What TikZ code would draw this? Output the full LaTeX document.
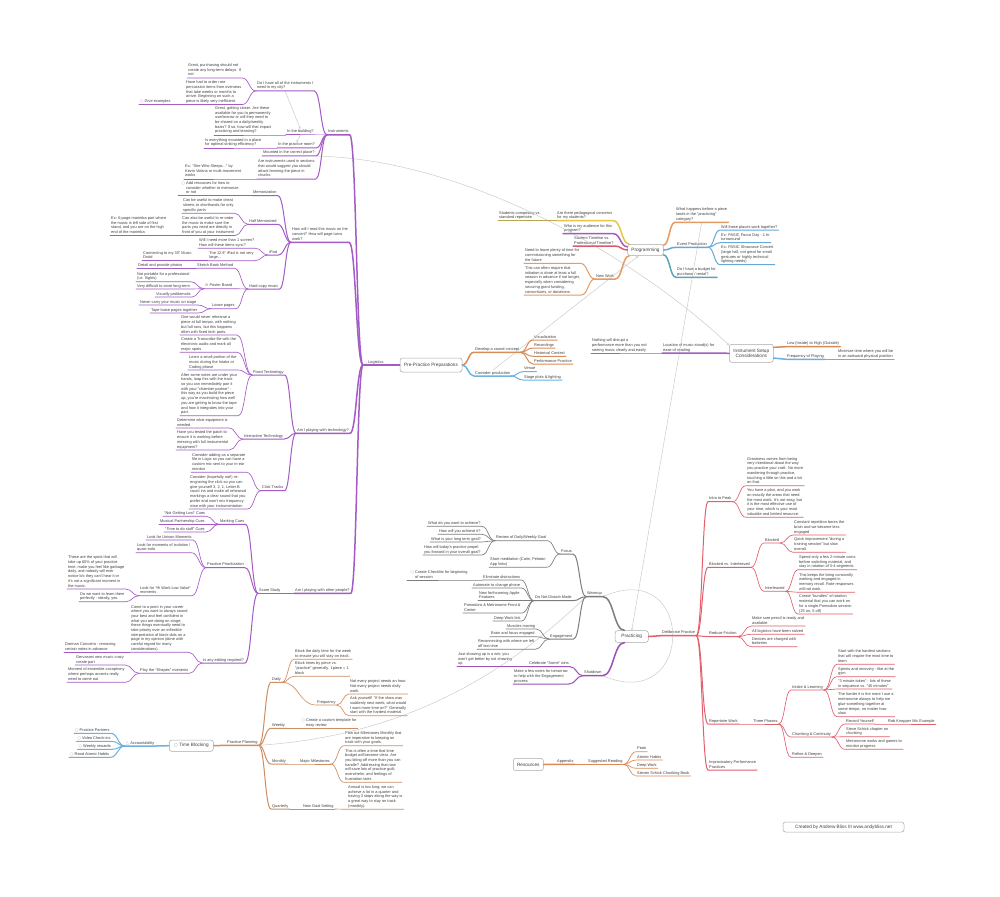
\documentclass[tikz,border=0pt]{standalone}
\usepackage{fontspec}
\setmainfont{Liberation Sans}
\newfontfamily\iconfont{DejaVu Sans}
\usepackage{xcolor}
\definecolor{darkText}{HTML}{404040}
\definecolor{boxGray}{HTML}{A8A8A8}
\definecolor{linkGray}{HTML}{CCCCCC}
\definecolor{iconGray}{HTML}{9A9A9A}
\definecolor{flagPink}{HTML}{E3A1C9}
\definecolor{warnRed}{HTML}{E0554F}
\definecolor{logPurple}{HTML}{A55BC6}
\definecolor{planBrown}{HTML}{CE8E63}
\definecolor{accBlue}{HTML}{6FB1DA}
\definecolor{soundOrange}{HTML}{D98C55}
\definecolor{prodBlue}{HTML}{6BB5E2}
\definecolor{pedYellow}{HTML}{E8C547}
\definecolor{oliveTan}{HTML}{B9A452}
\definecolor{audPurple}{HTML}{A35BC4}
\definecolor{timeRed}{HTML}{D95C6E}
\definecolor{newOrange}{HTML}{E59B63}
\definecolor{eventBlue}{HTML}{66A9D8}
\definecolor{budgetTeal}{HTML}{5CA4B2}
\definecolor{setupOrange}{HTML}{D88B52}
\definecolor{setupBlue}{HTML}{69B0DD}
\definecolor{warmGray}{HTML}{7D7D7D}
\definecolor{shutPurple}{HTML}{9C50B8}
\definecolor{delibRed}{HTML}{E25F6C}
\definecolor{appOrange}{HTML}{E08850}
\usepackage{tikz}
\usetikzlibrary{
    arrows.meta,
    calc
}
\newcommand\mapfont{\fontsize{3.9}{4.7}\selectfont}
\newcommand\rootfont{\fontsize{4.7}{5.8}\selectfont}
\newcommand\taskicon{{\iconfont\textcolor{iconGray}{○}}\ }
\newcommand\taskhang{\llap{\taskicon}}
\newcommand\warnicon{{\iconfont\textcolor{warnRed}{⊖}}\ }
\newcommand\flagicon[1]{{\iconfont\textcolor{#1}{△}}\ }
\tikzset{
    % Text of a topic, sitting on its own underline
    topic/.style={
        font=\mapfont,
        text=darkText,
        align=left,
        anchor=south west,
        inner xsep=1pt,
        inner ysep=0.7pt,
        execute at end node={\rule[-1.1pt]{0pt}{1pt}},
    },
    % Central topics - rounded white boxes
    rootbox/.style={
        font=\rootfont,
        text=darkText,
        align=center,
        draw=boxGray,
        line width=0.5pt,
        rounded corners=2.5pt,
        fill=white,
        inner sep=2pt,
    },
    % Mind map curve: leaves flat, bends, arrives flat
    curvy/.style={
        to path={.. controls ($(\tikztostart)!0.5!(\tikztotarget|-\tikztostart)$)
            and ($(\tikztotarget)!0.5!(\tikztostart|-\tikztotarget)$) .. (\tikztotarget)},
    },
    % Branch widths, from the root outwards
    trunk/.style={curvy, draw=#1, line width=1.5pt, line cap=round},
    bough/.style={curvy, draw=#1, line width=1pt, line cap=round},
    twig/.style={curvy, draw=#1, line width=0.65pt, line cap=round},
    % Thin grey relation lines
    crosslink/.style={
        draw=linkGray,
        line width=0.5pt,
        -{Stealth[length=2.5pt, width=2.2pt]},
    },
}

\begin{document}
\begin{tikzpicture}[x=1pt, y=-1pt]
    \fill [white] (0,0) rectangle (1000,896);
    \useasboundingbox (0,0) rectangle (1000,896);

    \node (prepractice) [rootbox, minimum width=62pt, minimum height=14pt] at (431,365) {Pre-Practice Preparations};
    \node (programming) [rootbox, minimum width=35.6pt, minimum height=11.4pt] at (645.5,250) {Programming};
    \node (setup) [rootbox, minimum width=44pt, minimum height=18pt] at (751.3,353.3) {Instrument Setup\\Considerations};
    \node (practicing) [rootbox, minimum width=33.3pt, minimum height=11.6pt] at (631.7,636.5) {Practicing};
    \node (resources) [rootbox, minimum width=30pt, minimum height=12.4pt] at (528.3,764.5) {Resources};
    \node (timeblocking) [rootbox, minimum width=44pt, minimum height=11.4pt] at (191.3,745.7) {{\iconfont\textcolor{iconGray}{○}} Time Blocking};
    \node (credits) [rootbox, minimum width=121pt, minimum height=10pt] at (843.5,827) {Created by Andrew Bliss III www.andybliss.net};

    \node (logistics) [topic] at (363,365) {\flagicon{flagPink}Logistics};
    \node (instruments) [topic] at (327,135) {Instruments};
    \node (doihave) [topic] at (256,91) {Do I have all of the instruments I\\need in my city?};
    \node (purchasing) [topic] at (187,78) {Great, purchasing should not\\create any long-term delays. If\\not};
    \node (overseas) [topic] at (185,104.5) {Have had to order rare\\percussion items from overseas\\that take weeks or months to\\arrive. Beginning on such a\\piece is likely very inefficient.};
    \node (giveexamples) [topic] at (139,104.5) {\taskicon Give examples};
    \node (inbuilding) [topic] at (286,135) {In the building?};
    \node (closer) [topic] at (214,135) {Great, getting closer. Are these\\available for you to permanently\\use/borrow or will they need to\\be shared on a daily/weekly\\basis? If so, how will that impact\\practicing and learning?};
    \node (practiceroom) [topic] at (277,148) {In the practice room?};
    \node (striking) [topic] at (204,148) {Is everything mounted in a place\\for optimal striking efficiency?};
    \node (mounted) [topic] at (262,156) {Mounted in the correct place?};
    \node (sections) [topic] at (257,179) {Are instruments used in sections\\that would suggest you should\\attack learning the piece in\\chunks};
    \node (shewho) [topic] at (184,179) {Ex: “She Who Sleeps...” by\\Kevin Volans or multi-movement\\works};

    \node (readmusic) [topic] at (291,242.3) {How will I read this music on the\\concert? How will page turns\\work?};
    \node (memorization) [topic] at (252,195.7) {Memorization};
    \node (addresources) [topic] at (185,195.7) {\taskhang Add resources for how to\\consider whether to memorize\\or not};
    \node (halfmemorized) [topic] at (248,224.3) {Half Memorized};
    \node (cheatsheets) [topic] at (182,213.3) {Can be useful to make cheat\\sheets or shorthands for only\\specific parts};
    \node (reorder) [topic] at (181,235.5) {Can also be useful to re-order\\the music to make sure the\\parts you need are directly in\\front of you at your instrument};
    \node (marimba) [topic] at (110,235.5) {Ex: 6-page marimba part where\\the music is left side of first\\stand, and you are on the high\\end of the marimba};
    \node (ipad) [topic] at (268,255) {iPad};
    \node (screens) [topic] at (198,248.3) {Will I need more than 1 screen?\\How will these items sync?};
    \node (ipadsize) [topic] at (208,260.7) {The 12.9" iPad is not very\\large...};
    \node (musicdroid) [topic] at (142,260.7) {Connecting to my 30" Music\\Droid};
    \node (hardcopy) [topic] at (248,289) {Hard copy music};
    \node (sketchbook) [topic] at (196,268.3) {Sketch Book Method};
    \node (photos) [topic] at (137,268.3) {Detail and provide photos};
    \node (posterboard) [topic] at (204,288.7) {\warnicon Poster Board};
    \node (portable) [topic] at (136,281.7) {Not portable for a professional\\(i.e. flights)};
    \node (storage) [topic] at (136,289) {Very difficult to store long-term};
    \node (visual) [topic] at (155,297) {Visually problematic};
    \node (loosepages) [topic] at (211,308.7) {Loose pages};
    \node (nevercarry) [topic] at (139,305) {Never carry your music on stage};
    \node (tapepages) [topic] at (150,313) {Tape loose pages together};

    \node (technology) [topic] at (296,433.3) {Am I playing with technology?};
    \node (fixedtech) [topic] at (252,375) {Fixed Technology};
    \node (neverrehearse) [topic] at (180,335) {One would never rehearse a\\piece at full tempo, with nothing\\but full runs, but this happens\\often with fixed tech parts.};
    \node (transcribe) [topic] at (180,352.3) {Create a Transcribe file with the\\electronic audio and mark all\\major spots};
    \node (learnportion) [topic] at (188,370) {Learn a small portion of the\\music during the Intake or\\Coding phase};
    \node (looptrack) [topic] at (180,415.7) {After some notes are under your\\hands, loop this with the track\\so you can immediately pair it\\with your “chamber partner” -\\this way as you build the piece\\up, you’re maximizing how well\\you are getting to know the tape\\and how it integrates into your\\part.};
    \node (interactive) [topic] at (243,439) {Interactive Technology};
    \node (equipment) [topic] at (176,428) {Determine what equipment is\\needed};
    \node (testpatch) [topic] at (176,450) {Have you tested the patch to\\ensure it is working before\\messing with full instrumental\\equipment?};
    \node (clicktracks) [topic] at (261,490.7) {Click Tracks};
    \node (logicmix) [topic] at (191,472.3) {Consider adding as a separate\\file in Logic so you can have a\\custom mix sent to your in-ear\\monitor};
    \node (reengrave) [topic] at (189,509) {Consider (hopefully not!) re-\\engraving the click so you can\\give yourself 3, 2, 1, Letter B\\count ins and make all rehearsal\\markings a clear sound that you\\prefer and won’t mix frequency-\\wise with your instrumentation};

    \node (otherpeople) [topic] at (294,593.3) {Am I playing with other people?};
    \node (scorestudy) [topic] at (258,593.3) {Score Study};
    \node (markingcues) [topic] at (219,524.3) {Marking Cues};
    \node (notlost) [topic] at (163,516.3) {“Not Getting Lost” Cues};
    \node (partnership) [topic] at (159,524.3) {Musical Partnership Cues};
    \node (timetodo) [topic] at (164,532) {“Time to do stuff” Cues};
    \node (prioritization) [topic] at (206,567.7) {Practice Prioritization};
    \node (unison) [topic] at (146,540) {Look for Unison Moments};
    \node (isolation) [topic] at (136,552.7) {Look for moments of isolation /\\quasi-solo};
    \node (hiwork) [topic] at (139,595.7) {Look for “Hi Work Low Value”\\moments};
    \node (garbage) [topic] at (67,589) {These are the spots that will\\take up 60\% of your practice\\time, make you feel like garbage\\daily, and nobody will ever\\notice b/c they can’t hear it or\\it’s not a significant moment in\\the music.};
    \node (perfectly) [topic] at (79,601.7) {Do we want to learn them\\perfectly - ideally, yes.};
    \node (editing) [topic] at (202,663) {Is any editing required?};
    \node (career) [topic] at (130,652.3) {Come to a point in your career\\where you want to always sound\\your best and feel confident in\\what you are doing on stage;\\these things eventually need to\\take priority over an inflexible\\interpretation of black dots on a\\page in my opinion (done with\\careful regard for many\\considerations).};
    \node (dorman) [topic] at (64,652.3) {Dorman Concerto - removing\\certain notes in advance};
    \node (shapes) [topic] at (139,673.3) {Play the “Shapes” moments};
    \node (gervasoni) [topic] at (75,665) {Gervasoni new music crazy\\create part};
    \node (cacophony) [topic] at (67,682.3) {Moment of ensemble cacophony\\where perhaps accents really\\need to come out};

    \node (accountability) [topic] at (125,746) {\flagicon{iconGray}Accountability};
    \node (partners) [topic] at (74,733.3) {\taskicon Practice Partners};
    \node (checkins) [topic] at (76.5,741.3) {\taskicon Video Check-ins};
    \node (rewards) [topic] at (77.5,749.3) {\taskicon Weekly rewards};
    \node (atomicread) [topic] at (69,757.3) {\taskicon Read Atomic Habits};
    \node (planning) [topic] at (226,745.3) {Practice Planning};
    \node (daily) [topic] at (271,682.3) {Daily};
    \node (dailytime) [topic] at (294,659.3) {Block the daily time for the week\\to ensure you will stay on track.};
    \node (perpiece) [topic] at (294,676.3) {Block times by piece vs.\\“practice” generally. 1piece = 1\\block};
    \node (frequency) [topic] at (316,705) {Frequency};
    \node (projecthour) [topic] at (349,694) {Not every project needs an hour.\\Not every project needs daily\\work.};
    \node (askyourself) [topic] at (349,715.7) {Ask yourself! “If the show was\\suddenly next week, what would\\I want more time on?” Generally\\start with the hardest material};
    \node (weekly) [topic] at (271,728.3) {Weekly};
    \node (template) [topic] at (305,728.3) {\taskhang Create a custom template for\\easy review};
    \coordinate (templatestart) at ([xshift=-8pt]template.south west);
    \node (monthly) [topic] at (271,764) {Monthly};
    \node (milestones) [topic] at (299,764) {Major Milestones};
    \node (planout) [topic] at (344,745.7) {Plan out Milestones Monthly that\\are imperative to keeping on\\track with your goals.};
    \node (timebudget) [topic] at (344,782.3) {This is often a time that time\\budget will become clear. Are\\you biting off more than you can\\handle? Addressing that now\\will save lots of practice guilt,\\overwhelm, and feelings of\\frustration later.};
    \node (quarterly) [topic] at (271,809) {Quarterly};
    \node (newgoal) [topic] at (302,809) {New Goal Setting};
    \node (annual) [topic] at (347,809.3) {Annual is too long; we can\\achieve a lot in a quarter and\\having 3 stops along the way is\\a great way to stay on track\\(monthly).};

    \node (soundconcept) [topic] at (474,352.3) {Develop a sound concept};
    \node (visualization) [topic] at (533,340) {Visualization};
    \node (recordings) [topic] at (533,348) {Recordings};
    \node (historical) [topic] at (533,356.3) {Historical Context};
    \node (perfpractice) [topic] at (533,364) {Performance Practice};
    \node (production) [topic] at (474,376) {Consider production};
    \node (venue) [topic] at (523,371.7) {Venue};
    \node (stageplots) [topic] at (523,380) {Stage plots \& lighting};

    \node (pedagogy) [topic] at (556,220.7) {Are there pedagogical concerns\\for my students?};
    \node (composing) [topic] at (498,220.7) {Students composing vs.\\standard repertoire};
    \node (audience) [topic] at (563,233.7) {Who is my audience for this\\program?};
    \node (timeline) [topic] at (573,246) {Student Timeline vs.\\Professional Timeline?};
    \node (newwork) [topic] at (595,279) {New Work};
    \node (commission) [topic] at (524,263.3) {Need to leave plenty of time for\\commissioning something for\\the future};
    \node (initiation) [topic] at (524,295) {This can often require that\\initiation is done at least a full\\season in advance if not longer,\\especially when considering\\securing grant funding,\\consortiums, or donations.};
    \node (beforepiece) [topic] at (675,222.3) {What happens before a piece\\lands in the “practicing”\\category?};
    \node (eventprod) [topic] at (676,247.3) {Event Production};
    \node (together) [topic] at (720,230) {Will these places work together?};
    \node (focusday) [topic] at (720,242.7) {Ex: PASIC Focus Day - 1 hr\\turnaround};
    \node (showcase) [topic] at (720,264.7) {Ex: PASIC Showcase Concert\\(large hall, not great for small\\gestures or highly technical\\lighting needs)};
    \node (budget) [topic] at (676,277.3) {Do I have a budget for\\purchase / rental?};

    \node (lowhigh) [topic] at (786,346.7) {Low (Inside) to High (Outside)};
    \node (playfreq) [topic] at (786,359.3) {Frequency of Playing};
    \node (awkward) [topic] at (837,359.3) {Minimize time where you will be\\in an awkward physical position};
    \node (musicstand) [topic] at (662,353) {Location of music stand(s) for\\ease of reading};
    \node (disrupt) [topic] at (591,353) {Nothing will disrupt a\\performance more than you not\\seeing music clearly and easily};

    \node (warmup) [topic] at (586,596.7) {Warmup};
    \node (focus) [topic] at (560,554) {Focus};
    \node (reviewgoal) [topic] at (495,540.7) {Review of Daily/Weekly Goal};
    \node (achieve) [topic] at (427,526.3) {What do you want to achieve?};
    \node (howachieve) [topic] at (438,534.3) {How will you achieve it?};
    \node (longterm) [topic] at (430,542) {What is your long term goal?};
    \node (propel) [topic] at (423,555) {How will today’s practice propel\\you forward in your overall goal?};
    \node (meditation) [topic] at (489,567.3) {Short meditation (Calm, Peloton\\App links)};
    \node (donotdisturb) [topic] at (534,600.7) {Do Not Disturb Mode};
    \node (distractions) [topic] at (482,580) {Eliminate distractions};
    \node (checklist) [topic] at (414,580) {\taskhang Create Checklist for beginning\\of session};
    \node (automate) [topic] at (472,588) {Automate to change phone};
    \node (applefeatures) [topic] at (478,600.7) {New forthcoming Apple\\Features};
    \node (pomodoro) [topic] at (463,613) {Pomodoro \& Metronome Front \&\\Center};
    \node (deepworklink) [topic] at (493,621) {Deep Work link};
    \node (engagement) [topic] at (549,639) {Engagement};
    \node (muscles) [topic] at (506,629) {Muscles moving};
    \node (brainfocus) [topic] at (490,636.7) {Brain and focus engaged};
    \node (reconnect) [topic] at (477,649.3) {Reconnecting with where we left\\off last time};
    \node (shutdown) [topic] at (583,675.7) {Shutdown};
    \node (celebrate) [topic] at (528,666.7) {Celebrate “Some” wins};
    \node (showingup) [topic] at (457,666.7) {Just showing up is a win; you\\won’t get better by not showing\\up};
    \node (fewnotes) [topic] at (513,684) {Make a few notes for tomorrow\\to help with the Engagement\\process};

    \node (deliberate) [topic] at (661,635.7) {Deliberate Practice};
    \node (introtopeak) [topic] at (708,501.7) {Intro to Peak};
    \node (greatness) [topic] at (746,485.7) {Greatness comes from being\\very intentional about the way\\you practice your craft. No more\\wandering through practice,\\touching a little on this and a bit\\on that.};
    \node (haveaplan) [topic] at (746,517.3) {You have a plan, and you work\\on exactly the areas that need\\the most work. It’s not easy, but\\it is the most effective use of\\your time, which is your most\\valuable and limited resource.};
    \node (blockedinter) [topic] at (708,567.3) {Blocked vs. Interleaved};
    \node (blocked) [topic] at (764,543) {Blocked};
    \node (repetition) [topic] at (793,535) {Constant repetition bores the\\brain and we become less\\engaged};
    \node (quickimprove) [topic] at (793,552.3) {Quick improvement “during a\\training session” but slow\\overall.};
    \node (interleaved) [topic] at (764,591.3) {Interleaved};
    \node (coins) [topic] at (798,569.7) {Spend only a few 2-minute coins\\before switching material, and\\stay in rotation of 3-4 segments};
    \node (recall) [topic] at (798,592.3) {This keeps the bring constantly\\working and engaged in\\memory recall. Rote responses\\will not work.};
    \node (bundles) [topic] at (798,614) {Create “bundles” of rotation\\material that you can work on\\for a single Pomodoro session\\(25 on, 5 off)};
    \node (friction) [topic] at (708,636.7) {Reduce Friction};
    \node (pencil) [topic] at (751,626) {Make sure pencil is ready and\\available};
    \node (solved) [topic] at (751,634.3) {All logistics have been solved};
    \node (charged) [topic] at (751,646.7) {Devices are charged with\\batteries};
    \node (repertoire) [topic] at (708,724) {Repertoire Work};
    \node (threephases) [topic] at (752,724) {Three Phases};
    \node (intake) [topic] at (791,690) {Intake \& Learning};
    \node (hardest) [topic] at (837,664.3) {Start with the hardest sections\\that will require the most time to\\learn};
    \node (sprints) [topic] at (837,676.7) {Sprints and recovery - like at the\\gym};
    \node (token) [topic] at (837,689) {“3 minute token” - lots of these\\in sequence vs. “45 minutes”};
    \node (glue) [topic] at (837,716.7) {The harder it is the more I use a\\metronome always to help me\\glue something together at\\some tempo, no matter how\\slow.};
    \node (chunking) [topic] at (791,737) {Chunking \& Continuity};
    \node (recordyourself) [topic] at (845,724) {Record Yourself};
    \node (knopper) [topic] at (887,724) {Rob Knopper Mic Example};
    \node (schickchapter) [topic] at (845,736.7) {Steve Schick chapter on\\chunking};
    \node (games) [topic] at (845,749.3) {Metronome works and games to\\monitor progress};
    \node (refine) [topic] at (791,757.3) {Refine \& Deepen};
    \node (improv) [topic] at (708,770) {Improvisatory Performance\\Practices};

    \node (appendix) [topic] at (556,764.3) {Appendix};
    \node (reading) [topic] at (587,764.3) {Suggested Reading};
    \node (peak) [topic] at (636,751.7) {Peak};
    \node (atomicbook) [topic] at (636,760) {Atomic Habits};
    \node (deepworkbook) [topic] at (636,768.3) {Deep Work};
    \node (schickbook) [topic] at (636,776) {Steven Schick Chunking Book};

    \draw [crosslink] (doihave.south) -- (inbuilding.north);
    \draw [crosslink] (inbuilding.south) -- (practiceroom.north);
    \draw [crosslink] (mounted.south east) .. controls (480,160) and (650,270) .. (setup.160);
    \draw [crosslink] (production.north) -- (programming.220);
    \draw [crosslink] (beforepiece.south) -- (practicing.north);
    \draw [crosslink] (planning.south east) .. controls (420,735) and (520,660) .. (warmup.south west);
    \draw [crosslink] (shutdown.south east) .. controls +(93,40) and +(93,-40) .. (warmup.south east);

    \draw [trunk=logPurple] (prepractice.west) to (logistics.south east) -- (logistics.south west);
    \draw [trunk=logPurple] (logistics.south west) to (instruments.south east) -- (instruments.south west);
    \draw [trunk=logPurple] (logistics.south west) to (readmusic.south east) -- (readmusic.south west);
    \draw [trunk=logPurple] (logistics.south west) to (technology.south east) -- (technology.south west);
    \draw [trunk=logPurple] (logistics.south west) to (otherpeople.south east) -- (otherpeople.south west);
    \draw [bough=logPurple] (instruments.south west) to (doihave.south east) -- (doihave.south west);
    \draw [bough=logPurple] (instruments.south west) to (inbuilding.south east) -- (inbuilding.south west);
    \draw [bough=logPurple] (instruments.south west) to (practiceroom.south east) -- (practiceroom.south west);
    \draw [bough=logPurple] (instruments.south west) to (mounted.south east) -- (mounted.south west);
    \draw [bough=logPurple] (instruments.south west) to (sections.south east) -- (sections.south west);
    \draw [twig=logPurple] (doihave.south west) to (purchasing.south east) -- (purchasing.south west);
    \draw [twig=logPurple] (doihave.south west) to (overseas.south east) -- (overseas.south west);
    \draw [twig=logPurple] (overseas.south west) to (giveexamples.south east) -- (giveexamples.south west);
    \draw [twig=logPurple] (inbuilding.south west) to (closer.south east) -- (closer.south west);
    \draw [twig=logPurple] (practiceroom.south west) to (striking.south east) -- (striking.south west);
    \draw [twig=logPurple] (sections.south west) to (shewho.south east) -- (shewho.south west);
    \draw [bough=logPurple] (readmusic.south west) to (memorization.south east) -- (memorization.south west);
    \draw [bough=logPurple] (readmusic.south west) to (halfmemorized.south east) -- (halfmemorized.south west);
    \draw [bough=logPurple] (readmusic.south west) to (ipad.south east) -- (ipad.south west);
    \draw [bough=logPurple] (readmusic.south west) to (hardcopy.south east) -- (hardcopy.south west);
    \draw [twig=logPurple] (memorization.south west) to (addresources.south east) -- ([xshift=-7pt]addresources.south west);
    \draw [twig=logPurple] (halfmemorized.south west) to (cheatsheets.south east) -- (cheatsheets.south west);
    \draw [twig=logPurple] (halfmemorized.south west) to (reorder.south east) -- (reorder.south west);
    \draw [twig=logPurple] (reorder.south west) to (marimba.south east) -- (marimba.south west);
    \draw [twig=logPurple] (ipad.south west) to (screens.south east) -- (screens.south west);
    \draw [twig=logPurple] (ipad.south west) to (ipadsize.south east) -- (ipadsize.south west);
    \draw [twig=logPurple] (ipadsize.south west) to (musicdroid.south east) -- (musicdroid.south west);
    \draw [twig=logPurple] (hardcopy.south west) to (sketchbook.south east) -- (sketchbook.south west);
    \draw [twig=logPurple] (hardcopy.south west) to (posterboard.south east) -- (posterboard.south west);
    \draw [twig=logPurple] (hardcopy.south west) to (loosepages.south east) -- (loosepages.south west);
    \draw [twig=logPurple] (sketchbook.south west) to (photos.south east) -- (photos.south west);
    \draw [twig=logPurple] (posterboard.south west) to (portable.south east) -- (portable.south west);
    \draw [twig=logPurple] (posterboard.south west) to (storage.south east) -- (storage.south west);
    \draw [twig=logPurple] (posterboard.south west) to (visual.south east) -- (visual.south west);
    \draw [twig=logPurple] (loosepages.south west) to (nevercarry.south east) -- (nevercarry.south west);
    \draw [twig=logPurple] (loosepages.south west) to (tapepages.south east) -- (tapepages.south west);
    \draw [bough=logPurple] (technology.south west) to (fixedtech.south east) -- (fixedtech.south west);
    \draw [bough=logPurple] (technology.south west) to (interactive.south east) -- (interactive.south west);
    \draw [bough=logPurple] (technology.south west) to (clicktracks.south east) -- (clicktracks.south west);
    \draw [twig=logPurple] (fixedtech.south west) to (neverrehearse.south east) -- (neverrehearse.south west);
    \draw [twig=logPurple] (fixedtech.south west) to (transcribe.south east) -- (transcribe.south west);
    \draw [twig=logPurple] (fixedtech.south west) to (learnportion.south east) -- (learnportion.south west);
    \draw [twig=logPurple] (fixedtech.south west) to (looptrack.south east) -- (looptrack.south west);
    \draw [twig=logPurple] (interactive.south west) to (equipment.south east) -- (equipment.south west);
    \draw [twig=logPurple] (interactive.south west) to (testpatch.south east) -- (testpatch.south west);
    \draw [twig=logPurple] (clicktracks.south west) to (logicmix.south east) -- (logicmix.south west);
    \draw [twig=logPurple] (clicktracks.south west) to (reengrave.south east) -- (reengrave.south west);
    \draw [bough=logPurple] (otherpeople.south west) to (scorestudy.south east) -- (scorestudy.south west);
    \draw [bough=logPurple] (scorestudy.south west) to (markingcues.south east) -- (markingcues.south west);
    \draw [bough=logPurple] (scorestudy.south west) to (prioritization.south east) -- (prioritization.south west);
    \draw [bough=logPurple] (scorestudy.south west) to (editing.south east) -- (editing.south west);
    \draw [twig=logPurple] (markingcues.south west) to (notlost.south east) -- (notlost.south west);
    \draw [twig=logPurple] (markingcues.south west) to (partnership.south east) -- (partnership.south west);
    \draw [twig=logPurple] (markingcues.south west) to (timetodo.south east) -- (timetodo.south west);
    \draw [twig=logPurple] (prioritization.south west) to (unison.south east) -- (unison.south west);
    \draw [twig=logPurple] (prioritization.south west) to (isolation.south east) -- (isolation.south west);
    \draw [twig=logPurple] (prioritization.south west) to (hiwork.south east) -- (hiwork.south west);
    \draw [twig=logPurple] (hiwork.south west) to (garbage.south east) -- (garbage.south west);
    \draw [twig=logPurple] (hiwork.south west) to (perfectly.south east) -- (perfectly.south west);
    \draw [twig=logPurple] (editing.south west) to (career.south east) -- (career.south west);
    \draw [twig=logPurple] (editing.south west) to (shapes.south east) -- (shapes.south west);
    \draw [twig=logPurple] (career.south west) to (dorman.south east) -- (dorman.south west);
    \draw [twig=logPurple] (shapes.south west) to (gervasoni.south east) -- (gervasoni.south west);
    \draw [twig=logPurple] (shapes.south west) to (cacophony.south east) -- (cacophony.south west);

    \draw [trunk=accBlue] (timeblocking.west) to (accountability.south east) -- (accountability.south west);
    \draw [bough=accBlue] (accountability.south west) to (partners.south east) -- (partners.south west);
    \draw [bough=accBlue] (accountability.south west) to (checkins.south east) -- (checkins.south west);
    \draw [bough=accBlue] (accountability.south west) to (rewards.south east) -- (rewards.south west);
    \draw [bough=accBlue] (accountability.south west) to (atomicread.south east) -- (atomicread.south west);
    \draw [trunk=planBrown] (timeblocking.east) to (planning.south west) -- (planning.south east);
    \draw [bough=planBrown] (planning.south east) to (daily.south west) -- (daily.south east);
    \draw [bough=planBrown] (planning.south east) to (weekly.south west) -- (weekly.south east);
    \draw [bough=planBrown] (planning.south east) to (monthly.south west) -- (monthly.south east);
    \draw [bough=planBrown] (planning.south east) to (quarterly.south west) -- (quarterly.south east);
    \draw [twig=planBrown] (daily.south east) to (dailytime.south west) -- (dailytime.south east);
    \draw [twig=planBrown] (daily.south east) to (perpiece.south west) -- (perpiece.south east);
    \draw [twig=planBrown] (daily.south east) to (frequency.south west) -- (frequency.south east);
    \draw [twig=planBrown] (frequency.south east) to (projecthour.south west) -- (projecthour.south east);
    \draw [twig=planBrown] (frequency.south east) to (askyourself.south west) -- (askyourself.south east);
    \draw [twig=planBrown] (weekly.south east) to (templatestart) -- (template.south east);
    \draw [twig=planBrown] (monthly.south east) to (milestones.south west) -- (milestones.south east);
    \draw [twig=planBrown] (milestones.south east) to (planout.south west) -- (planout.south east);
    \draw [twig=planBrown] (milestones.south east) to (timebudget.south west) -- (timebudget.south east);
    \draw [twig=planBrown] (quarterly.south east) to (newgoal.south west) -- (newgoal.south east);
    \draw [twig=planBrown] (newgoal.south east) to (annual.south west) -- (annual.south east);

    \draw [trunk=soundOrange] (prepractice.east) to (soundconcept.south west) -- (soundconcept.south east);
    \draw [bough=soundOrange] (soundconcept.south east) to (visualization.south west) -- (visualization.south east);
    \draw [bough=soundOrange] (soundconcept.south east) to (recordings.south west) -- (recordings.south east);
    \draw [bough=soundOrange] (soundconcept.south east) to (historical.south west) -- (historical.south east);
    \draw [bough=soundOrange] (soundconcept.south east) to (perfpractice.south west) -- (perfpractice.south east);
    \draw [trunk=prodBlue] (prepractice.east) to (production.south west) -- (production.south east);
    \draw [bough=prodBlue] (production.south east) to (venue.south west) -- (venue.south east);
    \draw [bough=prodBlue] (production.south east) to (stageplots.south west) -- (stageplots.south east);

    \draw [trunk=pedYellow] (programming.160) to (pedagogy.south east) -- (pedagogy.south west);
    \draw [bough=oliveTan] (pedagogy.south west) to (composing.south east) -- (composing.south west);
    \draw [trunk=audPurple] (programming.170) to (audience.south east) -- (audience.south west);
    \draw [trunk=timeRed] (programming.180) to (timeline.south east) -- (timeline.south west);
    \draw [trunk=newOrange] (programming.200) to (newwork.south east) -- (newwork.south west);
    \draw [bough=newOrange] (newwork.south west) to (commission.south east) -- (commission.south west);
    \draw [bough=newOrange] (newwork.south west) to (initiation.south east) -- (initiation.south west);
    \draw [trunk=newOrange] (programming.15) to (beforepiece.south west) -- (beforepiece.south east);
    \draw [trunk=eventBlue] (programming.0) to (eventprod.south west) -- (eventprod.south east);
    \draw [bough=eventBlue] (eventprod.south east) to (together.south west) -- (together.south east);
    \draw [bough=eventBlue] (eventprod.south east) to (focusday.south west) -- (focusday.south east);
    \draw [bough=eventBlue] (eventprod.south east) to (showcase.south west) -- (showcase.south east);
    \draw [trunk=budgetTeal] (programming.-15) to (budget.south west) -- (budget.south east);

    \draw [trunk=setupOrange] (setup.15) to (lowhigh.south west) -- (lowhigh.south east);
    \draw [trunk=setupBlue] (setup.-12) to (playfreq.south west) -- (playfreq.south east);
    \draw [bough=setupBlue] (playfreq.south east) to (awkward.south west) -- (awkward.south east);
    \draw [trunk=logPurple] (setup.west) to (musicstand.south east) -- (musicstand.south west);
    \draw [bough=logPurple] (musicstand.south west) to (disrupt.south east) -- (disrupt.south west);

    \draw [trunk=warmGray] (practicing.140) to (warmup.south east) -- (warmup.south west);
    \draw [bough=warmGray] (warmup.south west) to (focus.south east) -- (focus.south west);
    \draw [bough=warmGray] (warmup.south west) to (donotdisturb.south east) -- (donotdisturb.south west);
    \draw [bough=warmGray] (warmup.south west) to (engagement.south east) -- (engagement.south west);
    \draw [twig=warmGray] (focus.south west) to (reviewgoal.south east) -- (reviewgoal.south west);
    \draw [twig=warmGray] (focus.south west) to (meditation.south east) -- (meditation.south west);
    \draw [twig=warmGray] (reviewgoal.south west) to (achieve.south east) -- (achieve.south west);
    \draw [twig=warmGray] (reviewgoal.south west) to (howachieve.south east) -- (howachieve.south west);
    \draw [twig=warmGray] (reviewgoal.south west) to (longterm.south east) -- (longterm.south west);
    \draw [twig=warmGray] (reviewgoal.south west) to (propel.south east) -- (propel.south west);
    \draw [twig=warmGray] (donotdisturb.south west) to (distractions.south east) -- (distractions.south west);
    \draw [twig=warmGray] (donotdisturb.south west) to (automate.south east) -- (automate.south west);
    \draw [twig=warmGray] (donotdisturb.south west) to (applefeatures.south east) -- (applefeatures.south west);
    \draw [twig=warmGray] (donotdisturb.south west) to (pomodoro.south east) -- (pomodoro.south west);
    \draw [twig=warmGray] (donotdisturb.south west) to (deepworklink.south east) -- (deepworklink.south west);
    \draw [twig=warmGray] (distractions.south west) to (checklist.south east) -- ([xshift=-7pt]checklist.south west);
    \draw [twig=warmGray] (engagement.south west) to (muscles.south east) -- (muscles.south west);
    \draw [twig=warmGray] (engagement.south west) to (brainfocus.south east) -- (brainfocus.south west);
    \draw [twig=warmGray] (engagement.south west) to (reconnect.south east) -- (reconnect.south west);
    \draw [trunk=shutPurple] (practicing.220) to (shutdown.south east) -- (shutdown.south west);
    \draw [bough=shutPurple] (shutdown.south west) to (celebrate.south east) -- (celebrate.south west);
    \draw [bough=shutPurple] (shutdown.south west) to (fewnotes.south east) -- (fewnotes.south west);
    \draw [twig=shutPurple] (celebrate.south west) to (showingup.south east) -- (showingup.south west);

    \draw [trunk=delibRed] (practicing.east) to (deliberate.south west) -- (deliberate.south east);
    \draw [bough=delibRed] (deliberate.south east) to (introtopeak.south west) -- (introtopeak.south east);
    \draw [bough=delibRed] (deliberate.south east) to (blockedinter.south west) -- (blockedinter.south east);
    \draw [bough=delibRed] (deliberate.south east) to (friction.south west) -- (friction.south east);
    \draw [bough=delibRed] (deliberate.south east) to (repertoire.south west) -- (repertoire.south east);
    \draw [bough=delibRed] (deliberate.south east) to (improv.south west) -- (improv.south east);
    \draw [twig=delibRed] (introtopeak.south east) to (greatness.south west) -- (greatness.south east);
    \draw [twig=delibRed] (introtopeak.south east) to (haveaplan.south west) -- (haveaplan.south east);
    \draw [twig=delibRed] (blockedinter.south east) to (blocked.south west) -- (blocked.south east);
    \draw [twig=delibRed] (blockedinter.south east) to (interleaved.south west) -- (interleaved.south east);
    \draw [twig=delibRed] (blocked.south east) to (repetition.south west) -- (repetition.south east);
    \draw [twig=delibRed] (blocked.south east) to (quickimprove.south west) -- (quickimprove.south east);
    \draw [twig=delibRed] (interleaved.south east) to (coins.south west) -- (coins.south east);
    \draw [twig=delibRed] (interleaved.south east) to (recall.south west) -- (recall.south east);
    \draw [twig=delibRed] (interleaved.south east) to (bundles.south west) -- (bundles.south east);
    \draw [twig=delibRed] (friction.south east) to (pencil.south west) -- (pencil.south east);
    \draw [twig=delibRed] (friction.south east) to (solved.south west) -- (solved.south east);
    \draw [twig=delibRed] (friction.south east) to (charged.south west) -- (charged.south east);
    \draw [twig=delibRed] (repertoire.south east) to (threephases.south west) -- (threephases.south east);
    \draw [twig=delibRed] (threephases.south east) to (intake.south west) -- (intake.south east);
    \draw [twig=delibRed] (threephases.south east) to (chunking.south west) -- (chunking.south east);
    \draw [twig=delibRed] (threephases.south east) to (refine.south west) -- (refine.south east);
    \draw [twig=delibRed] (intake.south east) to (hardest.south west) -- (hardest.south east);
    \draw [twig=delibRed] (intake.south east) to (sprints.south west) -- (sprints.south east);
    \draw [twig=delibRed] (intake.south east) to (token.south west) -- (token.south east);
    \draw [twig=delibRed] (intake.south east) to (glue.south west) -- (glue.south east);
    \draw [twig=delibRed] (chunking.south east) to (recordyourself.south west) -- (recordyourself.south east);
    \draw [twig=delibRed] (chunking.south east) to (schickchapter.south west) -- (schickchapter.south east);
    \draw [twig=delibRed] (chunking.south east) to (games.south west) -- (games.south east);
    \draw [twig=delibRed] (recordyourself.south east) to (knopper.south west) -- (knopper.south east);

    \draw [trunk=appOrange] (resources.east) to (appendix.south west) -- (appendix.south east);
    \draw [bough=appOrange] (appendix.south east) to (reading.south west) -- (reading.south east);
    \draw [twig=appOrange] (reading.south east) to (peak.south west) -- (peak.south east);
    \draw [twig=appOrange] (reading.south east) to (atomicbook.south west) -- (atomicbook.south east);
    \draw [twig=appOrange] (reading.south east) to (deepworkbook.south west) -- (deepworkbook.south east);
    \draw [twig=appOrange] (reading.south east) to (schickbook.south west) -- (schickbook.south east);
\end{tikzpicture}
\end{document}
